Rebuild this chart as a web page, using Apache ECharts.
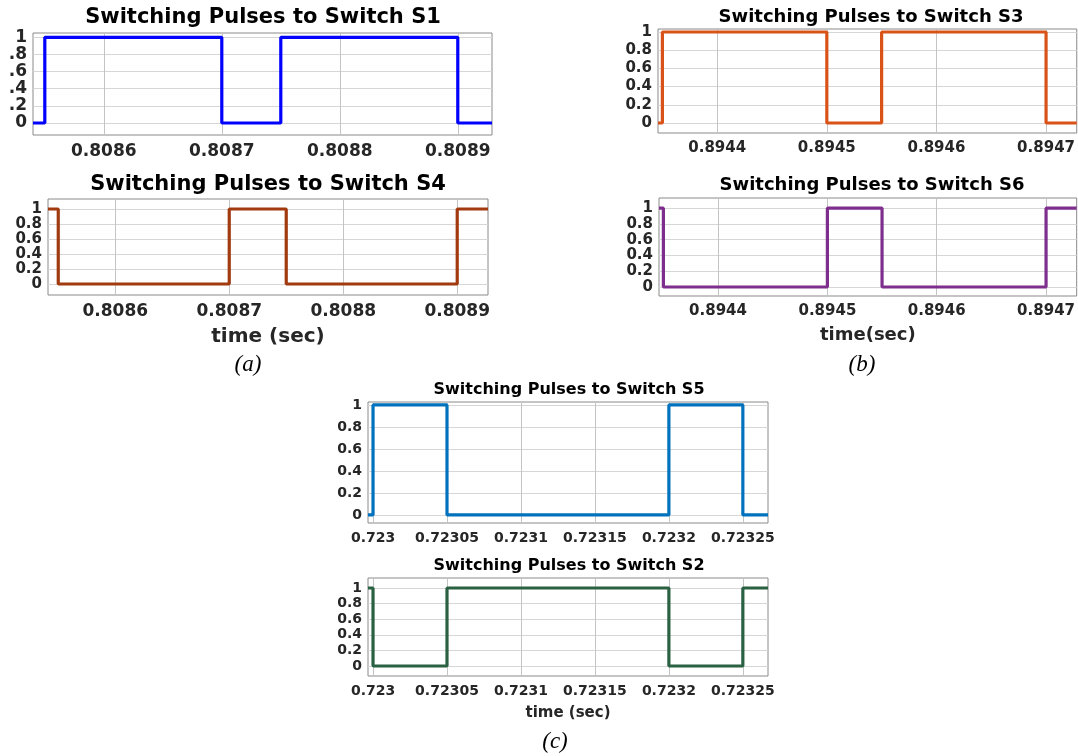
<!DOCTYPE html>
<html>
<head>
<meta charset="utf-8">
<script src="https://cdn.jsdelivr.net/npm/echarts@6/dist/echarts.min.js"></script>
<style>
html,body{margin:0;padding:0;background:#fff;}
#chart{width:1078px;height:756px;}
</style>
</head>
<body>
<div id="chart"></div>
<script>
// ---- data ----
const s1Times = [0.80854, 0.80855, 0.8087, 0.80875, 0.8089, 0.808929];
const s1Values = [0, 1, 0, 1, 0, 0];
const s4Times = [0.808541, 0.80855, 0.8087, 0.80875, 0.8089, 0.808927];
const s4Values = [1, 0, 1, 0, 1, 1];
const s3Times = [0.894346, 0.89435, 0.8945, 0.89455, 0.8947, 0.894728];
const s3Values = [0, 1, 0, 1, 0, 0];
const s6Times = [0.894346, 0.89435, 0.8945, 0.89455, 0.8947, 0.894728];
const s6Values = [1, 0, 1, 0, 1, 1];
const s5Times = [0.7229966, 0.723, 0.72305, 0.7232, 0.72325, 0.723267];
const s5Values = [0, 1, 0, 1, 0, 0];
const s2Times = [0.7229966, 0.723, 0.72305, 0.7232, 0.72325, 0.723267];
const s2Values = [1, 0, 1, 0, 1, 1];

const aTicks = [0.8086, 0.8087, 0.8088, 0.8089];
const aTickLabels = ['0.8086', '0.8087', '0.8088', '0.8089'];
const bTicks = [0.8944, 0.8945, 0.8946, 0.8947];
const bTickLabels = ['0.8944', '0.8945', '0.8946', '0.8947'];
const cTicks = [0.723, 0.72305, 0.7231, 0.72315, 0.7232, 0.72325];
const cTickLabels = ['0.723', '0.72305', '0.7231', '0.72315', '0.7232', '0.72325'];
const yTicks = [0, 0.2, 0.4, 0.6, 0.8, 1];
const yTickLabelsShort = ['0', '.2', '.4', '.6', '.8', '1'];
const yTickLabels = ['0', '0.2', '0.4', '0.6', '0.8', '1'];

const titles = ['Switching Pulses to Switch S1', 'Switching Pulses to Switch S4',
  'Switching Pulses to Switch S3', 'Switching Pulses to Switch S6',
  'Switching Pulses to Switch S5', 'Switching Pulses to Switch S2'];
const xNames = ['', 'time (sec)', '', 'time(sec)', '', 'time (sec)'];
const captions = ['(a)', '(b)', '(c)'];

// ---- layout ----
const FONT = 'DejaVu Sans';
const panels = [
  {t: s1Times, v: s1Values, color: '#0000FF', ticks: aTicks, tl: aTickLabels, yl: yTickLabelsShort,
   grid: {left: 33, top: 33, width: 459, height: 102}, xr: [0.80854, 0.808929], yr: [-0.14, 1.05],
   xfs: 17, yfs: 17, ylh: 16, tfs: 21, title: [263, 18], nfs: 20, ngap: 0},
  {t: s4Times, v: s4Values, color: '#A23A10', ticks: aTicks, tl: aTickLabels, yl: yTickLabels,
   grid: {left: 48, top: 199, width: 440, height: 96}, xr: [0.808541, 0.808927], yr: [-0.147, 1.133],
   xfs: 17, yfs: 15, ylh: 12, tfs: 21, title: [268, 185], nfs: 20, ngap: 32},
  {t: s3Times, v: s3Values, color: '#D95319', ticks: bTicks, tl: bTickLabels, yl: yTickLabels,
   grid: {left: 658, top: 29, width: 420, height: 104}, xr: [0.894346, 0.894728], yr: [-0.11, 1.033],
   xfs: 15, yfs: 15, ylh: 14, tfs: 18, title: [871, 17], nfs: 18, ngap: 0},
  {t: s6Times, v: s6Values, color: '#7E2F8E', ticks: bTicks, tl: bTickLabels, yl: yTickLabels,
   grid: {left: 659, top: 198, width: 419, height: 98}, xr: [0.894346, 0.894728], yr: [-0.114, 1.127],
   xfs: 15, yfs: 15, ylh: 13, tfs: 18, title: [872, 185], nfs: 18, ngap: 30},
  {t: s5Times, v: s5Values, color: '#0072BD', ticks: cTicks, tl: cTickLabels, yl: yTickLabels,
   grid: {left: 368, top: 402, width: 400, height: 121}, xr: [0.7229966, 0.723267], yr: [-0.073, 1.027],
   xfs: 14, yfs: 14, ylh: 14, tfs: 16, title: [569, 390], nfs: 15, ngap: 0},
  {t: s2Times, v: s2Values, color: '#2A6142', ticks: cTicks, tl: cTickLabels, yl: yTickLabels,
   grid: {left: 368, top: 578, width: 400, height: 98}, xr: [0.7229966, 0.723267], yr: [-0.128, 1.128],
   xfs: 14, yfs: 14, ylh: 13, tfs: 16, title: [569, 566], nfs: 15, ngap: 30}
];
const captionPos = [[248, 365], [862, 365], [555, 742]];

function labelFor(ticks, labels) {
  return function (val) {
    for (let i = 0; i < ticks.length; i++) {
      if (Math.abs(ticks[i] - val) < 1e-9) return labels[i];
    }
    return '';
  };
}

const grids = [], xAxes = [], yAxes = [], series = [], graphics = [];
panels.forEach((p, i) => {
  grids.push(Object.assign({show: true, borderColor: '#8a8a8a', borderWidth: 1, backgroundColor: '#fff', containLabel: false}, p.grid));
  xAxes.push({
    type: 'value', gridIndex: i, min: p.xr[0], max: p.xr[1],
    axisLine: {show: false},
    axisTick: {show: false, customValues: p.ticks},
    splitLine: {show: true, lineStyle: {color: '#c4c4c4', width: 1}},
    axisLabel: {customValues: p.ticks, formatter: labelFor(p.ticks, p.tl), fontFamily: FONT, fontWeight: 'bold',
      fontSize: p.xfs, color: '#262626', margin: 8, hideOverlap: false, interval: 0},
    name: xNames[i], nameLocation: 'middle', nameGap: p.ngap,
    nameTextStyle: {fontFamily: FONT, fontWeight: 'bold', fontSize: p.nfs, color: '#262626'}
  });
  yAxes.push({
    type: 'value', gridIndex: i, min: p.yr[0], max: p.yr[1],
    axisLine: {show: false},
    axisTick: {show: false, customValues: yTicks},
    splitLine: {show: true, lineStyle: {color: '#d6d6d6', width: 1}},
    axisLabel: {customValues: yTicks, formatter: labelFor(yTicks, p.yl), fontFamily: FONT, fontWeight: 'bold',
      fontSize: p.yfs, lineHeight: p.ylh, color: '#262626', margin: 6, hideOverlap: false, interval: 0,
      showMinLabel: true, showMaxLabel: true}
  });
  series.push({
    type: 'line', xAxisIndex: i, yAxisIndex: i, step: 'end', showSymbol: false, symbol: 'none',
    data: p.t.map((x, k) => [x, p.v[k]]),
    lineStyle: {color: p.color, width: 3.2}, itemStyle: {color: p.color}, clip: true, silent: true
  });
  graphics.push({
    type: 'text', x: p.title[0], y: p.title[1],
    style: {text: titles[i], fill: '#000', font: 'bold ' + p.tfs + 'px "' + FONT + '"', textAlign: 'center', textVerticalAlign: 'middle'}
  });
});
captions.forEach((c, i) => {
  graphics.push({
    type: 'text', x: captionPos[i][0], y: captionPos[i][1],
    style: {text: c, fill: '#000', font: 'italic 23px "Liberation Serif"', textAlign: 'center', textVerticalAlign: 'middle'}
  });
});

const chart = echarts.init(document.getElementById('chart'), null, {renderer: 'canvas'});
chart.setOption({
  animation: false,
  backgroundColor: '#fff',
  grid: grids, xAxis: xAxes, yAxis: yAxes, series: series, graphic: graphics
});
</script>
</body>
</html>
